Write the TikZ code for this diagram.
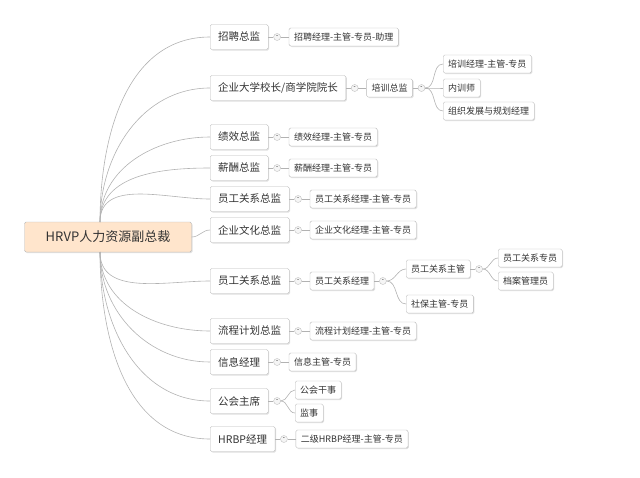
\documentclass[tikz,border=0pt]{standalone}
\usepackage{fontspec}
\setmainfont{Noto Sans CJK SC}
\usetikzlibrary{positioning,shadows}

\tikzset{
  box/.style={rectangle, draw=gray!55, fill=white, rounded corners=1.5pt, inner xsep=5pt,
    drop shadow={opacity=0.25, shadow xshift=1pt, shadow yshift=-1pt}, text=black!80},
  root/.style={box, fill=orange!20, font=\fontsize{13}{13}\selectfont, minimum height=30pt, minimum width=167pt},
  topic/.style={box, font=\fontsize{10.5}{11}\selectfont, minimum height=25pt, anchor=west, inner xsep=8pt},
  sub/.style={box, font=\fontsize{9}{10}\selectfont, minimum height=18pt, anchor=west},
  fold/.style={circle, draw=gray!50, fill=gray!8, inner sep=0pt, minimum size=7pt, font=\fontsize{6}{6}\selectfont},
  link/.style={draw=gray!60, line width=0.6pt}
}

\begin{document}
\begin{tikzpicture}[x=1pt,y=1pt]
\useasboundingbox (0,0) rectangle (640,-477);

\node [root] (vp) at (108,-237) {HRVP人力资源副总裁};
\coordinate (vpt) at (100,-222);
\coordinate (vpb) at (100,-252);

% first level
\node [topic] (zp) at (210,-37) {招聘总监};
\node [topic] (dx) at (210,-88) {企业大学校长/商学院院长};
\node [topic] (jx) at (210,-137) {绩效总监};
\node [topic] (xc) at (210,-168) {薪酬总监};
\node [topic] (yg) at (210,-199) {员工关系总监};
\node [topic] (wh) at (210,-230) {企业文化总监};
\node [topic] (yh) at (210,-281) {员工关系总监};
\node [topic] (lc) at (210,-331) {流程计划总监};
\node [topic] (xx) at (210,-362) {信息经理};
\node [topic] (gh) at (210,-401) {公会主席};
\node [topic] (hr) at (210,-439) {HRBP经理};

\foreach \t in {zp,dx,jx,xc,yg}
  \draw [link] (vpt) to [out=90,in=180] (\t.west);
\foreach \t in {yh,lc,xx,gh,hr}
  \draw [link] (vpb) to [out=-90,in=180] (\t.west);
\draw [link] (vp.east) to [out=0,in=180] (wh.west);

% fold marks
\foreach \t in {zp,dx,jx,xc,yg,wh,yh,lc,xx,gh,hr}
  \node [fold, right=5pt of \t] (\t f) {-};
\foreach \t in {zp,dx,jx,xc,yg,wh,yh,lc,xx,gh,hr}
  \draw [link] (\t.east) -- (\t f);

% second level
\node [sub, right=8pt of zpf] (zp1) {招聘经理-主管-专员-助理};
\node [sub, right=8pt of dxf] (dx1) {培训总监};
\node [sub, right=8pt of jxf] (jx1) {绩效经理-主管-专员};
\node [sub, right=8pt of xcf] (xc1) {薪酬经理-主管-专员};
\node [sub, right=8pt of ygf] (yg1) {员工关系经理-主管-专员};
\node [sub, right=8pt of whf] (wh1) {企业文化经理-主管-专员};
\node [sub, right=8pt of yhf] (yh1) {员工关系经理};
\node [sub, right=8pt of lcf] (lc1) {流程计划经理-主管-专员};
\node [sub, right=8pt of xxf] (xx1) {信息主管-专员};
\node [sub] (gh1) at (295,-390) {公会干事};
\node [sub] (gh2) at (295,-413) {监事};
\node [sub, right=8pt of hrf] (hr1) {二级HRBP经理-主管-专员};

\foreach \t in {zp,dx,jx,xc,yg,wh,yh,lc,xx,hr}
  \draw [link] (\t f) -- (\t 1);
\draw [link] (ghf) to [out=0,in=180] (gh1.west);
\draw [link] (ghf) to [out=0,in=180] (gh2.west);

% training branch
\node [fold, right=5pt of dx1] (dx1f) {-};
\draw [link] (dx1) -- (dx1f);
\node [sub] (px1) at (443,-64) {培训经理-主管-专员};
\node [sub] (px2) at (443,-88) {内训师};
\node [sub] (px3) at (443,-111) {组织发展与规划经理};
\foreach \t in {px1,px2,px3}
  \draw [link] (dx1f) to [out=0,in=180] (\t.west);

% employee relations branch
\node [fold, right=5pt of yh1] (yh1f) {-};
\draw [link] (yh1) -- (yh1f);
\node [sub] (gx1) at (406,-269) {员工关系主管};
\node [sub] (gx2) at (406,-304) {社保主管-专员};
\foreach \t in {gx1,gx2}
  \draw [link] (yh1f) to [out=0,in=180] (\t.west);
\node [fold, right=5pt of gx1] (gx1f) {-};
\draw [link] (gx1) -- (gx1f);
\node [sub] (zy1) at (498,-258) {员工关系专员};
\node [sub] (zy2) at (498,-281) {档案管理员};
\foreach \t in {zy1,zy2}
  \draw [link] (gx1f) to [out=0,in=180] (\t.west);
\end{tikzpicture}
\end{document}
